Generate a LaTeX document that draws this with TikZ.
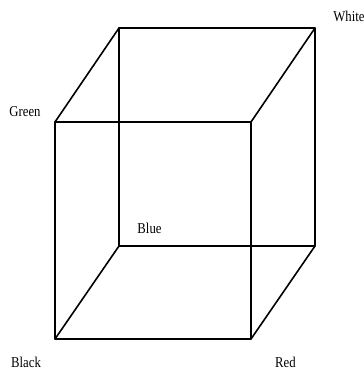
\documentclass[tikz,border=0pt]{standalone}
\usepackage{fontspec}
\setmainfont{Liberation Serif}
\begin{document}
\begin{tikzpicture}[x=1pt,y=-1pt,
  edge/.style={line width=1.6pt, line cap=round, line join=round},
  lbl/.style={inner sep=0pt, anchor=base, font=\fontsize{15}{15}\selectfont, xscale=0.85}]
\useasboundingbox (0,0) rectangle (364,370);
% front face
\coordinate (fbl) at (55,339);
\coordinate (fbr) at (251,339);
\coordinate (ftr) at (251,122);
\coordinate (ftl) at (55,122);
% back face
\coordinate (bbl) at (119,246);
\coordinate (bbr) at (315,246);
\coordinate (btr) at (315,28);
\coordinate (btl) at (119,28);
\draw[edge] (fbl) -- (fbr) -- (ftr) -- (ftl) -- cycle;
\draw[edge] (bbl) -- (bbr) -- (btr) -- (btl) -- cycle;
\draw[edge] (fbl) -- (bbl);
\draw[edge] (fbr) -- (bbr);
\draw[edge] (ftr) -- (btr);
\draw[edge] (ftl) -- (btl);
\node[lbl] (green) at (25,116) {Green};
\node[lbl] (white) at (349,21) {White};
\node[lbl] (blue) at (149.5,233) {Blue};
\node[lbl] (black) at (26,367) {Black};
\node[lbl] (red) at (285.5,367) {Red};
\end{tikzpicture}
\end{document}
